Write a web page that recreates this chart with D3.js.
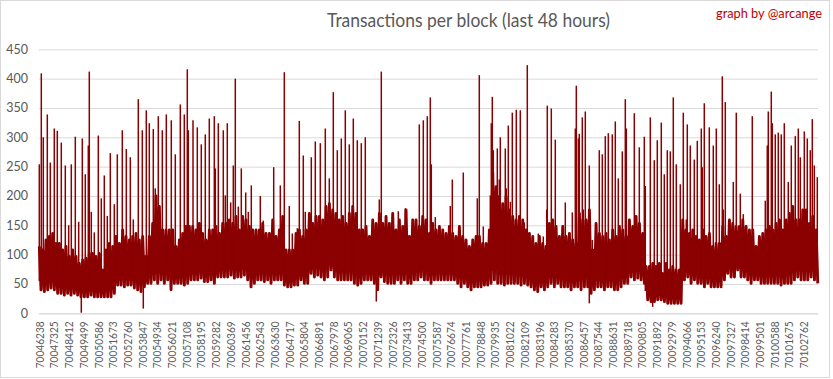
<!DOCTYPE html>
<html><head><meta charset="utf-8">
<script src="https://cdn.jsdelivr.net/npm/d3@7/dist/d3.min.js"></script>
<style>body{margin:0;background:#fff}svg{display:block}</style>
</head><body>
<svg id="chart" width="833" height="379"></svg>
<script>
// ---------- DATA ----------
const firstBlock = 70046238;
const blockCount = 57600;
const yTickValues = [0, 50, 100, 150, 200, 250, 300, 350, 400, 450];
const xTickLabels = ["70046238","70047325","70048412","70049499","70050586","70051673","70052760","70053847","70054934","70056021","70057108","70058195","70059282","70060369","70061456","70062543","70063630","70064717","70065804","70066891","70067978","70069065","70070152","70071239","70072326","70073413","70074500","70075587","70076674","70077761","70078848","70079935","70081022","70082109","70083196","70084283","70085370","70086457","70087544","70088631","70089718","70090805","70091892","70092979","70094066","70095153","70096240","70097327","70098414","70099501","70100588","70101675","70102762"];

// envelope of the dense band: one sample every ~246 blocks
const bandFirstOffset = 25;
const bandStep = 246.5;
const bandHigh = [
114,108,125,131,136,119,119,108,114,97, 108,97,85,91,94,102,102,97,102,74,
108,119,114,131,119,142,131,125,131,136, 125,131,97,131,153,200,182,142,142,142,
142,114,125,136,148,148,148,142,153,136, 125,142,142,148,136,153,153,159,153,165,
142,165,159,148,142,142,142,153,136,136, 159,131,142,165,108,108,108,136,142,
131,142,170,153,165,165,159,182,187,176, 170,159,165,153,170,182,170,142,142,148,
131,159,153,170,153,165,153,170,142,159, 148,176,131,159,159,148,165,159,136,153,
142,148,142,136,148,136,131,148,131,125, 114,125,131,131,119,119,142,240,216,199,
187,199,176,165,159,165,159,142,136,131, 119,131,119,114,153,159,148,131,
148,131,136,125,119,170,159,159,176,108, 153,136,131,136,125,142,131,148,142,131,
159,148,165,153,136,80,80,85,80,85, 68,85,74,80,74,74,159,142,136,142,
131,125,142,131,136,114,119,119,148,131, 159,153,148,148,159,148,142,142,114,131,
136,142,148,142,153,159,142,159,170,182, 159,159,176,176,153,165,142
];
const bandLow = [
40,37,40,43,40,34,34,31,34,31, 34,31,28,28,28,31,28,28,28,28,
28,28,34,48,48,45,48,48,43,40, 37,45,51,51,57,51,57,51,57,40,
51,51,51,48,51,57,57,57,60,54, 54,57,51,62,62,62,62,65,60,62,
62,65,57,45,51,57,57,54,57,51, 57,57,57,48,45,45,48,48,57,
51,51,68,62,65,62,57,62,74,62, 57,57,57,57,57,51,48,51,57,57,
57,51,40,62,54,51,51,51,57,51, 57,51,51,57,57,62,57,57,51,57,
57,57,57,57,57,57,51,45,51,45, 40,45,45,45,48,48,51,57,51,51,
48,51,51,51,51,48,51,48,45,40, 37,45,40,45,51,45,51,45,
45,45,40,45,45,40,45,45,34,40, 45,45,40,45,45,40,40,45,51,51,
62,57,60,57,51,23,20,20,23,23, 20,17,17,17,17,17,57,62,51,57,
51,51,45,51,45,45,45,45,57,68, 62,62,74,62,62,57,51,57,57,51,
51,51,51,51,51,48,51,51,51,57, 62,57,57,57,62,57,51
];

// isolated tall blocks (offset from firstBlock) and their transaction counts
const spikeBlockOffset = [
22,170,318,614,836,1131,1353,1649,1945,2196, 2388,2684,2935,3202,3423,3645,3719,3867,4089,4385,
4606,4828,5050,5272,5568,5790,6159,6455,6751,6973, 7342,7638,7934,8156,8451,8599,8821,9117,9413,9782,
10078,10448,10744,10965,11039,11387,11705,12000,12296,12592, 12962,13036,13258,13627,13775,13923,
14174,14367,14515,14736,14958,15284,15476,15698,16363,16585, 17354,17842,18138,18507,18729,19099,19247,19542,19690,20134,
20430,20800,21169,21465,21761,22057,22352,22648,22944,23240, 23535,23831,24127,25162,25310,26567,27085,28120,28416,
28711,28933,29007,29303,30412,30560,31373,32408,32556,32852, 33370,33443,33517,33591,33887,34035,34109,34479,34553,34700,
34848,34996,35292,35588,35883,36105,36919,37288,37540,37584, 37880,38175,38915,39433,39655,39729,39877,39950,40172,40246,
40394,40690,40912,41429,41651,41873,42095,42390,42612,
42834,43130,43352,43426,44017,44387,44756,44830,45200,45495, 45717,46013,46235,46457,46679,46900,47122,47418,47640,47861,
47935,48157,48453,48675,48971,49044,49192,49562,49858,50080, 50301,50523,50597,50745,51337,51558,51854,52076,52741,53333,
53703,53850,53924,54146,54220,54442,54664,54886,55108,55403, 55625,55921,56143,56291,56587,56808,57030,57178,57326,57548
];
const spikeValue = [
254,409,300,339,257,315,311,291,252,150, 254,301,156,298,237,286,412,173,138,303,
196,235,166,273,186,271,312,280,266,160, 365,312,346,324,314,213,336,312,339,329,
271,356,339,416,312,329,317,288,305,332, 336,247,324,312,201,324,
189,252,400,182,247,206,173,218,200,158, 249,218,411,183,136,145,328,269,173,266,
293,290,315,230,377,278,298,346,288,332, 295,290,300,194,412,174,179,322,329,
336,368,254,164,183,228,240,196,406,148, 201,324,369,278,281,228,300,281,213,320,
190,342,347,346,155,423,136,131,177,354, 349,296,189,172,315,388,298,306,334,177,
344,252,125,278,271,302,307,305,327,
230,276,365,315,341,283,301,217,334,261, 295,325,237,278,276,368,254,220,342,160,
322,286,262,294,315,249,358,317,286,315, 220,404,177,360,224,342,204,169,336,124,
192,286,344,378,324,305,308,305,324,224, 286,302,315,266,310,298,278,331,252,232
];
// isolated very low blocks
const dipBlockOffset = [3128, 7712, 24940, 40690, 45377];
const dipValue = [1, 8, 20, 17, 11];

// ---------- DRAWING ----------
const svg = d3.select("#chart");
const plot = {left: 39, right: 818, top: 49.3, bottom: 313.3};
const lineColor = "#8b0000";
const textGray = "#595959";
const font = "Lato, 'Liberation Sans', sans-serif";

svg.append("rect").attr("x", 0.5).attr("y", 0.5).attr("width", 829).attr("height", 377)
  .attr("fill", "#fff").attr("stroke", "#d9d9d9");

const x = d3.scaleLinear().domain([0, blockCount]).range([plot.left, plot.right]);
const y = d3.scaleLinear().domain([0, 450]).range([plot.bottom, plot.top]);

// y axis with gridlines
const yAxis = svg.append("g").attr("transform", `translate(${plot.left},0)`)
  .call(d3.axisLeft(y).tickValues(yTickValues).tickSize(-(plot.right - plot.left)).tickPadding(11));
yAxis.select(".domain").remove();
yAxis.selectAll("line").attr("stroke", "#d9d9d9").attr("stroke-width", 1);
yAxis.selectAll("text").attr("fill", textGray).style("font-family", font).style("font-size", "12.5px");

// data: each envelope sample is drawn as a high point followed by a low point,
// which reproduces the dense up/down trace of the line chart
const band = bandHigh.map((h, i) => ({o: bandFirstOffset + i * bandStep, hi: h, lo: bandLow[i]}));
const nearestBand = o => band[Math.max(0, Math.min(band.length - 1, Math.round((o - bandFirstOffset) / bandStep)))];
const trace = [];
band.forEach(d => {
  trace.push([x(d.o), y(d.hi)]);
  trace.push([x(d.o + bandStep / 2), y(d.lo)]);
});

const g = svg.append("g");
g.append("path").datum(trace)
  .attr("d", d3.line())
  .attr("fill", "none").attr("stroke", lineColor).attr("stroke-width", 2.9).attr("stroke-linejoin", "round");

const n = Math.min(spikeBlockOffset.length, spikeValue.length);
const spikes = d3.range(n).map(i => ({o: spikeBlockOffset[i], v: spikeValue[i]}));
g.selectAll("line.spike").data(spikes).join("line").attr("class", "spike")
  .attr("x1", d => x(d.o)).attr("x2", d => x(d.o))
  .attr("y1", d => y(nearestBand(d.o).lo + 15)).attr("y2", d => y(d.v))
  .attr("stroke", lineColor).attr("stroke-width", 1.5);

const dips = dipBlockOffset.map((o, i) => ({o, v: dipValue[i]}));
g.selectAll("line.dip").data(dips).join("line").attr("class", "dip")
  .attr("x1", d => x(d.o)).attr("x2", d => x(d.o))
  .attr("y1", d => y(nearestBand(d.o).hi - 20)).attr("y2", d => y(d.v))
  .attr("stroke", lineColor).attr("stroke-width", 1.5);

// x axis
const xTickOffsets = xTickLabels.map(l => +l - firstBlock);
const xAxis = svg.append("g").attr("transform", `translate(0,${plot.bottom})`)
  .call(d3.axisBottom(x).tickValues(xTickOffsets).tickSize(0).tickFormat((d, i) => xTickLabels[i]));
xAxis.select(".domain").attr("stroke", "#d9d9d9");
xAxis.selectAll("text")
  .attr("transform", "rotate(-90)")
  .attr("text-anchor", "end")
  .attr("x", -8).attr("y", 0).attr("dy", "0.35em")
  .attr("fill", textGray)
  .attr("textLength", 47).attr("lengthAdjust", "spacingAndGlyphs")
  .style("font-family", font).style("font-size", "12px");

// title & credit
svg.append("text").attr("x", 327).attr("y", 27)
  .attr("textLength", 283).attr("lengthAdjust", "spacingAndGlyphs")
  .attr("fill", textGray).style("font-family", font).style("font-size", "19px")
  .text("Transactions per block (last 48 hours)");
svg.append("text").attr("x", 716).attr("y", 18)
  .attr("textLength", 106).attr("lengthAdjust", "spacingAndGlyphs")
  .attr("fill", "#c00000").style("font-family", font).style("font-size", "13px")
  .text("graph by @arcange");
</script>
</body></html>
